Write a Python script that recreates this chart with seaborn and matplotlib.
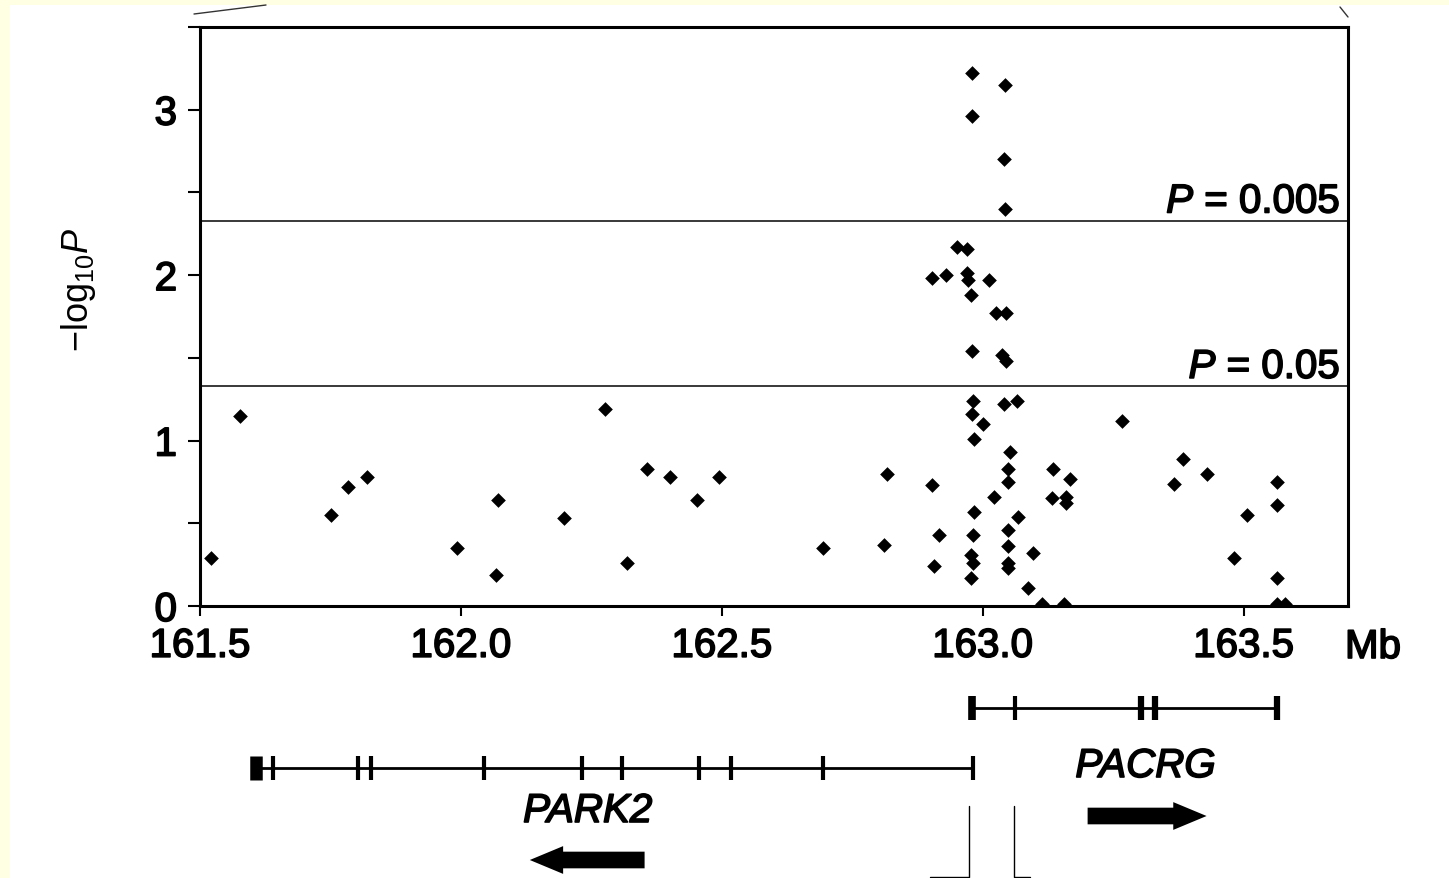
import matplotlib
matplotlib.use("Agg")
import matplotlib.pyplot as plt
from matplotlib.lines import Line2D
from matplotlib.patches import Rectangle
import matplotlib.patheffects as pe
import seaborn as sns
import pandas as pd

# ---------------- data ----------------
snp_pos_mb = [161.521, 161.577, 161.752, 161.784, 161.820, 161.992, 162.067, 162.071, 162.197, 162.276,
              162.318, 162.357, 162.400, 162.452, 162.494, 162.693, 162.810, 162.816, 162.902, 162.906,
              162.916,
              162.981, 162.980, 163.001, 162.983, 163.040, 163.065, 163.052, 163.048, 163.048, 163.021,
              162.983, 162.981, 163.068, 163.048, 163.048, 162.978, 162.981, 163.048, 163.048, 162.978,
              163.096, 163.087, 163.114, 163.156, 163.135, 163.167, 163.132, 163.159, 163.160, 163.266,
              163.383, 163.366, 163.430, 163.506, 163.481, 163.564, 163.563, 163.564, 163.563, 163.579,
              162.951, 162.969, 162.902, 162.930, 162.969, 162.971, 163.012, 162.978, 163.026, 163.044,
              162.980, 163.036, 163.044,
              162.979, 163.042, 162.979, 163.040, 163.042]
snp_neglog10p = [0.29, 1.15, 0.55, 0.72, 0.78, 0.35, 0.19, 0.64, 0.53, 1.19,
                 0.26, 0.83, 0.78, 0.64, 0.78, 0.35, 0.37, 0.80, 0.73, 0.24,
                 0.43,
                 1.24, 1.16, 1.10, 1.01, 1.22, 1.24, 0.93, 0.83, 0.75, 0.66,
                 0.57, 0.43, 0.54, 0.46, 0.36, 0.31, 0.26, 0.26, 0.23, 0.17,
                 0.32, 0.11, 0.01, 0.01, 0.83, 0.77, 0.65, 0.66, 0.62, 1.12,
                 0.89, 0.74, 0.80, 0.55, 0.29, 0.75, 0.61, 0.17, 0.01, 0.01,
                 2.17, 2.16, 1.98, 2.00, 2.01, 1.97, 1.97, 1.88, 1.77, 1.77,
                 1.54, 1.52, 1.48,
                 3.22, 3.15, 2.96, 2.70, 2.40]

threshold_values = [2.33, 1.33]
threshold_labels = ["$\\mathit{P}$ = 0.005", "$\\mathit{P}$ = 0.05"]

x_ticks = [161.5, 162.0, 162.5, 163.0, 163.5]
x_tick_labels = ["161.5", "162.0", "162.5", "163.0", "163.5"]
y_ticks = [0, 0.5, 1, 1.5, 2, 2.5, 3, 3.5]
y_tick_labels = ["0", "", "1", "", "2", "", "3", ""]

pacrg_exons = [162.979, 163.061, 163.303, 163.331, 163.563]
pacrg_exon_w = [5.5, 3.0, 4.5, 4.5, 4.5]
park2_exons = [161.607, 161.640, 161.803, 161.828, 162.044, 162.232, 162.308, 162.456, 162.517, 162.694, 162.981]
park2_exon_w = [9.0, 3.0, 3.0, 3.0, 3.0, 3.0, 3.0, 3.0, 3.0, 3.0, 3.0]
gene_names = ["PACRG", "PARK2"]

# ---------------- style ----------------
sns.set_style("ticks")
plt.rcParams["font.family"] = ["Liberation Sans", "DejaVu Sans"]
plt.rcParams["mathtext.fontset"] = "custom"
plt.rcParams["mathtext.rm"] = "Liberation Sans"
plt.rcParams["mathtext.it"] = "Liberation Sans:italic"
plt.rcParams["mathtext.bf"] = "Liberation Sans:bold"
for k in ["text.color", "axes.labelcolor", "xtick.color", "ytick.color", "axes.edgecolor"]:
    plt.rcParams[k] = "black"

thick = [pe.withStroke(linewidth=1.2, foreground="black")]

W, H = 1449, 879
fig = plt.figure(figsize=(W / 100, H / 100), dpi=100)
fig.patch.set_facecolor("#FFFFE4")
fig.add_artist(Rectangle((10 / W, 0), 1 - 10 / W, 1 - 6 / H, transform=fig.transFigure,
                         facecolor="white", edgecolor="none", zorder=0))

ax_l, ax_r, ax_t, ax_b = 200, 1348, 28, 607
ax = fig.add_axes([ax_l / W, 1 - ax_b / H, (ax_r - ax_l) / W, (ax_b - ax_t) / H])
ax.set_facecolor("white")

df = pd.DataFrame({"pos": snp_pos_mb, "p": snp_neglog10p})
sns.scatterplot(data=df, x="pos", y="p", marker="D", color="black", s=56,
                linewidth=0, ax=ax, zorder=3)

for v, lab in zip(threshold_values, threshold_labels):
    ax.axhline(v, color="#2a2a2a", lw=1.3, zorder=2)
    ax.text(0.993, v, lab, transform=ax.get_yaxis_transform(), ha="right", va="bottom",
            fontsize=29, color="black", path_effects=thick)

ax.set_xlim(161.5, 163.7)
ax.set_ylim(0, 3.48)
ax.set_xticks(x_ticks)
ax.set_xticklabels(x_tick_labels, fontsize=29)
ax.set_yticks(y_ticks)
ax.set_yticklabels(y_tick_labels, fontsize=29)
for t in ax.get_xticklabels() + ax.get_yticklabels():
    t.set_path_effects(thick)
ax.tick_params(axis="x", direction="out", length=7, width=1.5, pad=8, colors="black")
ax.tick_params(axis="y", direction="out", length=8.5, width=1.5, pad=8, colors="black")
for s in ax.spines.values():
    s.set_visible(True)
    s.set_linewidth(2.2)
    s.set_color("black")

ax.set_xlabel("")
ax.set_ylabel("\u2212log$_{10}\\mathit{P}$", fontsize=26)
ax.yaxis.label.set_va("center")
ax.yaxis.set_label_coords((78 - ax_l) / (ax_r - ax_l), (ax_b - 290) / (ax_b - ax_t))

ax.text(1.0 + (1345 - ax_r) / (ax_r - ax_l), -(629 - ax_b) / (ax_b - ax_t), "Mb",
        transform=ax.transAxes, ha="left", va="top", fontsize=29, path_effects=thick)

# ---------------- gene track ----------------
g_top = 655
gax = fig.add_axes([ax_l / W, 0, (ax_r - ax_l) / W, (H - g_top) / H])
gax.set_xlim(161.5, 163.7)
gax.set_ylim(H, g_top)
gax.axis("off")
gax.patch.set_alpha(0)

row_pacrg, row_park2, half = 709, 769, 12
gax.hlines(row_pacrg, min(pacrg_exons), max(pacrg_exons), color="black", lw=2.0)
gax.vlines(pacrg_exons, row_pacrg - half, row_pacrg + half, color="black", lw=pacrg_exon_w)
gax.hlines(row_park2, min(park2_exons), max(park2_exons), color="black", lw=2.0)
gax.vlines(park2_exons, row_park2 - half, row_park2 + half, color="black", lw=park2_exon_w)

gax.text(163.312, 767, gene_names[0], ha="center", va="center", fontsize=29,
         fontstyle="italic", color="black", path_effects=thick)
gax.text(162.243, 812, gene_names[1], ha="center", va="center", fontsize=29,
         fontstyle="italic", color="black", path_effects=thick)

arrow_style = "simple,head_length=24,head_width=20,tail_width=12"
gax.annotate("", xy=(163.429, 817), xytext=(163.201, 817),
             arrowprops=dict(arrowstyle=arrow_style, mutation_scale=1, color="black",
                             shrinkA=0, shrinkB=0, lw=0))
gax.annotate("", xy=(162.132, 861), xytext=(162.352, 861),
             arrowprops=dict(arrowstyle=arrow_style, mutation_scale=1, color="black",
                             shrinkA=0, shrinkB=0, lw=0))

# zoom connector lines (decoration from neighbouring panels)
gax.plot([162.973, 162.973, 162.898], [807, 878, 878], color="black", lw=1.0, clip_on=False)
gax.plot([163.059, 163.059, 163.090], [807, 878, 878], color="black", lw=1.0, clip_on=False)
fig.add_artist(Line2D([194 / W, 266 / W], [1 - 15 / H, 1 - 6 / H], transform=fig.transFigure,
                      color="#333333", lw=1.0))
fig.add_artist(Line2D([1340 / W, 1348 / W], [1 - 8 / H, 1 - 18 / H], transform=fig.transFigure,
                      color="#333333", lw=1.0))

fig.savefig("out.png", dpi=100, facecolor=fig.get_facecolor())
